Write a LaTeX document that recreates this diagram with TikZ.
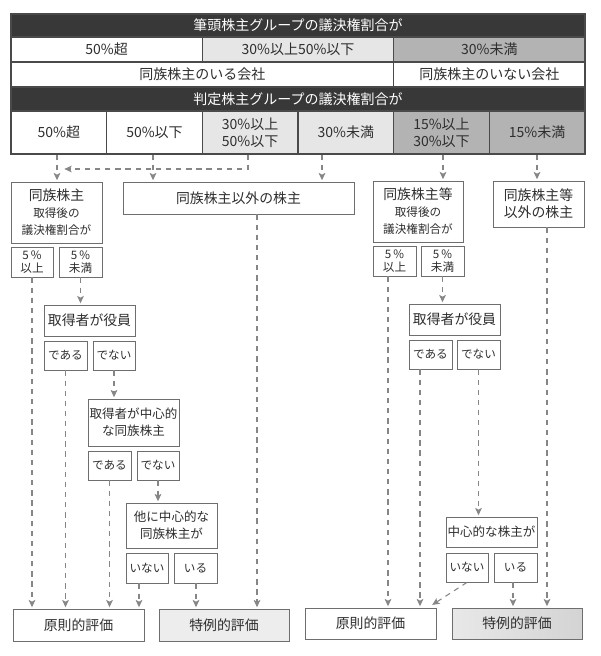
\documentclass[tikz,border=0pt]{standalone}
\usepackage{fontspec}
\setmainfont{Noto Sans CJK JP}
\usetikzlibrary{arrows.meta}
\definecolor{dk}{HTML}{383838}
\definecolor{tline}{HTML}{4A4A4A}
\definecolor{bline}{HTML}{6E6E6E}
\definecolor{aline}{HTML}{868686}
\definecolor{lightf}{HTML}{E6E6E6}
\definecolor{midf}{HTML}{B3B3B3}
\definecolor{txt}{HTML}{2E2E2E}
\newcommand\myft{\fontsize{10.5}{12.8}\selectfont}
\newcommand\myfb{\fontsize{10.4}{12.8}\selectfont}
\newcommand\myfm{\fontsize{9.4}{12.8}\selectfont}
\newcommand\myfs{\fontsize{8.7}{12.8}\selectfont}
\newcommand\myfp{\fontsize{8.7}{10}\selectfont}
\newcommand\mkbox[7]{\node[#6, minimum width={(#4-#2)*0.75pt}, minimum height={(#5-#3)*0.75pt}] (#1) at ({(#2+#4)/2},{(#3+#5)/2}) {#7};}
\begin{document}
\begin{tikzpicture}[x=0.75pt,y=-0.75pt,
  cell/.style={draw=tline, line width=0.8pt, inner sep=0pt, align=center, text=txt, font=\myft},
  barcell/.style={cell, fill=dk, text=white},
  lcell/.style={cell, fill=lightf},
  mcell/.style={cell, fill=midf},
  bx/.style={draw=bline, line width=0.6pt, inner sep=0pt, align=center, text=txt, font=\myfb},
  smbx/.style={bx, font=\myfp},
  anbx/.style={bx, font=\myfs},
  mdbx/.style={bx, font=\myfm},
  conn/.style={draw=aline, line width=0.8pt, dash pattern=on 4pt off 3.6pt, shorten >=1pt,
    -{Stealth[length=5.5pt,width=5pt,inset=1.3pt,fill=aline]}}
]
\useasboundingbox (0,0) rectangle (600,656);
\fill[white] (0,0) rectangle (600,656);
% ---- table ----
\mkbox{bar1}{11}{14}{585}{37}{barcell}{筆頭株主グループの議決権割合が}
\mkbox{a1}{11}{37}{202.3}{62}{cell}{50\%超}
\mkbox{a2}{202.3}{37}{393.7}{62}{lcell}{30\%以上50\%以下}
\mkbox{a3}{393.7}{37}{585}{62}{mcell}{30\%未満}
\mkbox{b1}{11}{62}{393.7}{87}{cell}{同族株主のいる会社}
\mkbox{b2}{393.7}{62}{585}{87}{cell}{同族株主のいない会社}
\mkbox{bar2}{11}{87}{585}{111}{barcell}{判定株主グループの議決権割合が}
\mkbox{c1}{11}{111}{106.7}{154}{cell}{50\%超}
\mkbox{c2}{106.7}{111}{202.3}{154}{cell}{50\%以下}
\mkbox{c3}{202.3}{111}{298}{154}{lcell}{30\%以上\\50\%以下}
\mkbox{c4}{298}{111}{393.7}{154}{lcell}{30\%未満}
\mkbox{c5}{393.7}{111}{489.3}{154}{mcell}{15\%以上\\30\%以下}
\mkbox{c6}{489.3}{111}{585}{154}{mcell}{15\%未満}
% ---- left flow ----
\mkbox{dz1}{11}{182}{102}{243}{anbx}{{\myfb 同族株主}\\取得後の\\議決権割合が}
\mkbox{p5L}{11}{247}{53}{277}{smbx}{5\,\%\\以上}
\mkbox{m5L}{59}{247}{102}{277}{smbx}{5\,\%\\未満}
\mkbox{hoka}{123}{182}{354}{214}{bx}{同族株主以外の株主}
\mkbox{yak1}{44}{305}{135}{336}{bx}{取得者が役員}
\mkbox{de1}{44}{341}{87}{370}{smbx}{である}
\mkbox{dn1}{93}{341}{135}{370}{smbx}{でない}
\mkbox{chu1}{88}{399}{179}{446}{mdbx}{取得者が中心的\\な同族株主}
\mkbox{de2}{88}{451}{131}{480}{smbx}{である}
\mkbox{dn2}{137}{451}{179}{480}{smbx}{でない}
\mkbox{hok2}{126}{503}{217}{548}{mdbx}{他に中心的な\\同族株主が}
\mkbox{in1}{126}{553}{168}{583}{anbx}{いない}
\mkbox{ir1}{174}{553}{217}{583}{anbx}{いる}
\mkbox{gen1}{13}{609}{144}{641}{bx}{原則的評価}
\mkbox{tok1}{159}{609}{289}{641}{bx,fill=black!7}{特例的評価}
% ---- right flow ----
\mkbox{dz2}{373}{181}{463}{242}{anbx}{{\myfb 同族株主等}\\取得後の\\議決権割合が}
\mkbox{p5R}{373}{246}{416}{276}{smbx}{5\,\%\\以上}
\mkbox{m5R}{421}{246}{464}{276}{smbx}{5\,\%\\未満}
\mkbox{hoka2}{493}{181}{584}{227}{bx}{同族株主等\\以外の株主}
\mkbox{yak2}{409}{304}{500}{335}{bx}{取得者が役員}
\mkbox{de3}{409}{340}{452}{369}{smbx}{である}
\mkbox{dn3}{457}{340}{500}{369}{smbx}{でない}
\mkbox{chu2}{446}{517}{537}{547}{mdbx}{中心的な株主が}
\mkbox{in2}{446}{553}{488}{582}{anbx}{いない}
\mkbox{ir2}{494}{553}{537}{582}{anbx}{いる}
\mkbox{gen2}{305}{608}{436}{639}{bx}{原則的評価}
\mkbox{tok2}{452}{608}{582}{639}{bx,left color=black!9,right color=black!17}{特例的評価}
% ---- named columns for connectors ----
\coordinate (x57) at (57,0);
\coordinate (x153) at (153,0);
\coordinate (x322) at (322,0);
\coordinate (x443) at (443,0);
\coordinate (x537) at (537,0);
\coordinate (dj) at (248,169);
\coordinate (hd) at (63,169);
\coordinate (x32) at (32,0);
\coordinate (x139) at (139,0);
\coordinate (x196) at (196,0);
\coordinate (x257) at (257,0);
\coordinate (x388) at (388,0);
\coordinate (x420) at (420,0);
\coordinate (x513) at (513,0);
\coordinate (x547) at (547,0);
% ---- connectors: from table ----
\draw[conn] (c1.south -| x57) -- (x57 |- dz1.north);
\draw[conn] (c2.south -| x153) -- (x153 |- hoka.north);
\draw[conn] (c4.south -| x322) -- (x322 |- hoka.north);
\draw[conn] (c5.south -| x443) -- (x443 |- dz2.north);
\draw[conn] (c6.south -| x537) -- (x537 |- hoka2.north);
\draw[conn] (c3.south -| dj) -- (dj) -- (hd);
% ---- left ----
\draw[conn] (m5L.south) -- (m5L.south |- yak1.north);
\draw[conn] (dn1.south) -- (dn1.south |- chu1.north);
\draw[conn] (dn2.south) -- (dn2.south |- hok2.north);
\draw[conn] (p5L.south -| x32) -- (x32 |- gen1.north);
\draw[conn] (de1.south) -- (de1.south |- gen1.north);
\draw[conn] (de2.south) -- (de2.south |- gen1.north);
\draw[conn] (in1.south -| x139) -- (x139 |- gen1.north);
\draw[conn] (ir1.south -| x196) -- (x196 |- tok1.north);
\draw[conn] (hoka.south -| x257) -- (x257 |- tok1.north);
% ---- right ----
\draw[conn] (m5R.south) -- (m5R.south |- yak2.north);
\draw[conn] (dn3.south) -- (dn3.south |- chu2.north);
\draw[conn] (p5R.south -| x388) -- (x388 |- gen2.north);
\draw[conn] (de3.south -| x420) -- (x420 |- gen2.north);
\draw[conn] (in2.south) -- ([xshift=-4pt,yshift=1.5pt]gen2.north east);
\draw[conn] (ir2.south -| x513) -- (x513 |- tok2.north);
\draw[conn] (hoka2.south -| x547) -- (x547 |- tok2.north);
\end{tikzpicture}
\end{document}
